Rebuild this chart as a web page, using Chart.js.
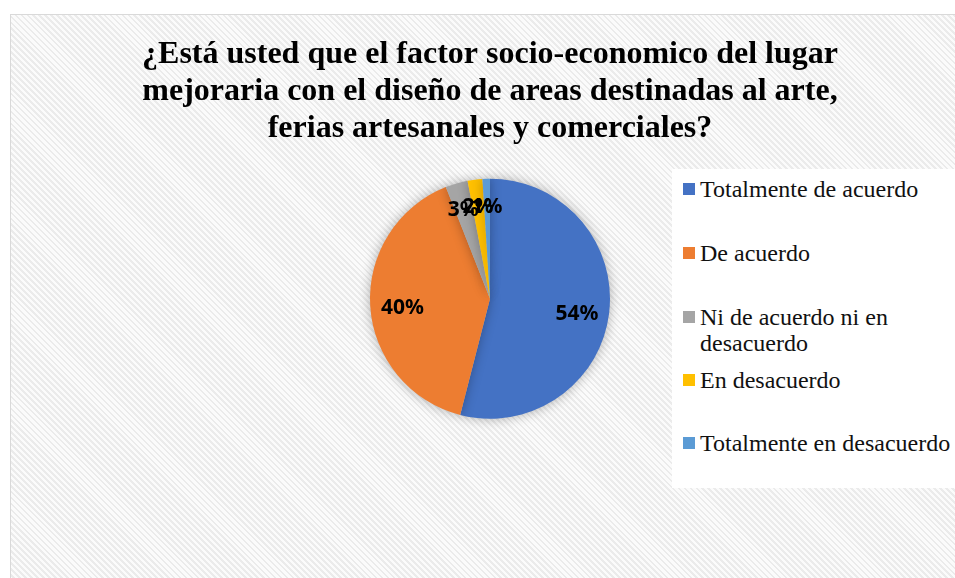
<!DOCTYPE html>
<html>
<head>
<meta charset="utf-8">
<script src="https://cdn.jsdelivr.net/npm/chart.js@4.4.0/dist/chart.umd.min.js"></script>
<style>
  html, body { margin: 0; padding: 0; background: #fff; overflow: hidden; }
  #frame {
    position: absolute; left: 10px; top: 14px; width: 970px; height: 600px;
    border: 1px solid #d9d9d9;
    background: repeating-linear-gradient(45deg, #fbfbfb 0px, #fbfbfb 2.3px, #ebebeb 2.3px, #ebebeb 4.2px);
  }
  #wrap { position: absolute; left: 0; top: 0; width: 955px; height: 578px; }
  #legend {
    position: absolute; left: 672px; top: 169px; width: 300px; height: 319px;
    background: #fff; font-family: "Liberation Serif", "Times New Roman", serif;
    font-size: 24px; color: #111;
  }
  .item { position: absolute; left: 11px; width: 262px; line-height: 26px; padding-left: 17px; }
  .item span.box { position: absolute; left: 0; top: 7px; width: 12px; height: 12px; }
</style>
</head>
<body>
<div id="frame"></div>
<div id="wrap"><canvas id="pieChart" width="955" height="578"></canvas></div>
<div id="legend"></div>
<script>
const titleLines = [
  '¿Está usted que el factor socio-economico del lugar',
  'mejoraria con el diseño de areas destinadas al arte,',
  'ferias artesanales y comerciales?'
];
const categories = [
  'Totalmente de acuerdo',
  'De acuerdo',
  'Ni de acuerdo ni en desacuerdo',
  'En desacuerdo',
  'Totalmente en desacuerdo'
];
const percents = [54, 40, 3, 2, 1];
const sliceColors = ['#4472C4', '#ED7D31', '#A5A5A5', '#FFC000', '#5B9BD5'];

// percentage labels inside the slices
const sliceLabels = {
  id: 'sliceLabels',
  afterDatasetsDraw(chart) {
    const ctx = chart.ctx;
    const meta = chart.getDatasetMeta(0);
    ctx.save();
    ctx.font = 'bold 21px "Noto Sans", "Open Sans", sans-serif';
    ctx.fillStyle = '#000';
    ctx.textAlign = 'center';
    ctx.textBaseline = 'middle';
    meta.data.forEach((arc, i) => {
      const p = arc.getProps(['x', 'y', 'startAngle', 'endAngle', 'outerRadius'], true);
      const mid = (p.startAngle + p.endAngle) / 2;
      const r = p.outerRadius * (percents[i] < 10 ? 0.8 : 0.73);
      ctx.fillText(percents[i] + '%', p.x + Math.cos(mid) * r, p.y + Math.sin(mid) * r + 4);
    });
    ctx.restore();
  }
};

// soft shadow round the pie
const pieShadow = {
  id: 'pieShadow',
  beforeDatasetsDraw(chart) {
    const ctx = chart.ctx;
    ctx.save();
    ctx.shadowColor = 'rgba(0,0,0,0.3)';
    ctx.shadowBlur = 12;
  },
  afterDatasetsDraw(chart) {
    chart.ctx.restore();
  }
};

new Chart(document.getElementById('pieChart'), {
  type: 'pie',
  data: {
    labels: categories,
    datasets: [{
      data: percents,
      backgroundColor: sliceColors,
      borderWidth: 0
    }]
  },
  options: {
    responsive: false,
    animation: false,
    radius: 120,
    layout: { padding: { left: 25, right: 0, top: 0, bottom: 132 } },
    plugins: {
      legend: { display: false },
      tooltip: { enabled: false },
      title: {
        display: true,
        text: titleLines,
        color: '#000',
        font: { family: '"Liberation Serif", "Times New Roman", serif', size: 32, weight: 'bold', lineHeight: 1.16 },
        padding: { top: 36, bottom: 4 }
      }
    }
  },
  plugins: [pieShadow, sliceLabels]
});

// legend on the right
const slots = [7, 71, 135, 198, 261];
const legend = document.getElementById('legend');
categories.forEach((name, i) => {
  const d = document.createElement('div');
  d.className = 'item';
  d.style.top = slots[i] + 'px';
  d.innerHTML = '<span class="box" style="background:' + sliceColors[i] + '"></span>' + name;
  legend.appendChild(d);
});
</script>
</body>
</html>
